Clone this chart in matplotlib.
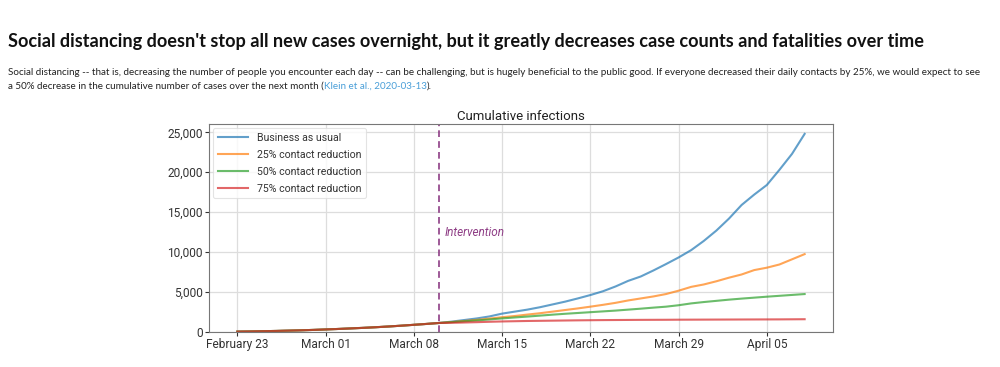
import matplotlib
matplotlib.use("Agg")

import matplotlib.pyplot as plt
import matplotlib.dates as mdates
import matplotlib.ticker as mticker
import numpy as np
import pandas as pd

# -- Data ---------------------------------------------------------------------
dates = pd.date_range("2020-02-23", "2020-04-08", freq="D")
intervention_date = pd.Timestamp("2020-03-10")

common = [50, 70, 100, 130, 170, 210, 260, 320, 380, 450, 520, 600, 690, 790,
          900, 1010, 1130]

business_as_usual = common + [1300, 1500, 1700, 1950, 2300, 2550, 2800, 3100,
                              3450, 3800, 4200, 4625, 5100, 5700, 6400, 6950,
                              7700, 8500, 9330, 10250, 11400, 12700, 14200,
                              15900, 17200, 18400, 20300, 22300, 24800]
reduction_25 = common + [1250, 1380, 1520, 1680, 1850, 2000, 2180, 2350, 2550,
                         2750, 2950, 3170, 3400, 3650, 3950, 4200, 4450, 4750,
                         5170, 5650, 5950, 6350, 6800, 7200, 7750, 8050, 8450,
                         9100, 9750]
reduction_50 = common + [1230, 1340, 1450, 1570, 1700, 1820, 1930, 2050, 2170,
                         2280, 2380, 2480, 2580, 2680, 2800, 2920, 3050, 3170,
                         3350, 3580, 3750, 3900, 4050, 4180, 4300, 4420, 4530,
                         4640, 4750]
reduction_75 = common + [1150, 1190, 1230, 1280, 1320, 1350, 1380, 1400, 1420,
                         1440, 1460, 1475, 1490, 1500, 1510, 1520, 1525, 1530,
                         1540, 1545, 1550, 1555, 1560, 1565, 1570, 1575, 1580,
                         1590, 1600]

series = [
    ("Business as usual", business_as_usual, "tab:blue"),
    ("25% contact reduction", reduction_25, "tab:orange"),
    ("50% contact reduction", reduction_50, "tab:green"),
    ("75% contact reduction", reduction_75, "tab:red"),
]

title = ("Social distancing doesn't stop all new cases overnight, "
         "but it greatly decreases case counts and fatalities over time")
line1 = ("Social distancing -- that is, decreasing the number of people you "
         "encounter each day -- can be challenging, but is hugely beneficial to "
         "the public good. If everyone decreased their daily contacts by 25%, "
         "we would expect to see")
line2 = "a 50% decrease in the cumulative number of cases over the next month ("
link = "Klein et al., 2020-03-13"

# -- Figure -------------------------------------------------------------------
fig = plt.figure(figsize=(10, 3.67), dpi=100)
fig.patch.set_facecolor("white")

fig.text(0.008, 1 - 47 / 367, title, fontsize=13.05, fontweight="bold",
         family="Lato", color="#111111", va="baseline")

body_size = 7.12
fig.text(0.008, 1 - 75 / 367, line1, fontsize=body_size, family="Lato",
         color="#222222", va="baseline")
t2 = fig.text(0.008, 1 - 89 / 367, line2, fontsize=body_size, family="Lato",
              color="#222222", va="baseline")
fig.canvas.draw()
bb = t2.get_window_extent()
t3 = fig.text(bb.x1 / fig.bbox.width, 1 - 89 / 367, link, fontsize=body_size,
              family="Lato", color="#4a9fd8", va="baseline")
fig.canvas.draw()
bb = t3.get_window_extent()
fig.text(bb.x1 / fig.bbox.width, 1 - 89 / 367, ").", fontsize=body_size,
         family="Lato", color="#222222", va="baseline")

# -- Chart --------------------------------------------------------------------
ax = fig.add_axes([0.209, 1 - 332 / 367, 0.624, 208 / 367])
chart_font = "Roboto"

for label, values, color in series:
    ax.plot(dates, values, color=color, lw=1.5, alpha=0.7, label=label)

ax.axvline(intervention_date, color="#8e3d85", lw=1.2, ls=(0, (4, 2.5)))
ax.text(intervention_date + pd.Timedelta(days=0.4), 12500, "Intervention",
        fontsize=8.5, style="italic", color="#8e3d85", ha="left", va="center",
        family=chart_font)

ax.set_ylim(0, None)
ax.set_title("Cumulative infections", fontsize=9.5, color="#222222", pad=3,
             family=chart_font)

ax.xaxis.set_major_locator(mdates.WeekdayLocator(byweekday=mdates.SU))
ax.xaxis.set_major_formatter(mdates.DateFormatter("%B %d"))
ax.yaxis.set_major_locator(mticker.MultipleLocator(5000))
ax.yaxis.set_major_formatter(mticker.StrMethodFormatter("{x:,.0f}"))

ax.grid(True, color="#dddddd", lw=0.9)
ax.set_axisbelow(True)
for spine in ax.spines.values():
    spine.set_color("#777777")
ax.tick_params(labelsize=8.6, colors="#333333", length=3, width=0.8,
               pad=1.5)
for lab in ax.get_xticklabels() + ax.get_yticklabels():
    lab.set_family(chart_font)

leg = ax.legend(loc="upper left", frameon=True, fancybox=True,
                borderpad=0.45, labelspacing=0.65, handlelength=2.8,
                handletextpad=0.9, borderaxespad=0.4,
                prop={"family": chart_font, "size": 7.6})
leg.get_frame().set_edgecolor("#dddddd")
leg.get_frame().set_linewidth(0.8)
for txt in leg.get_texts():
    txt.set_color("#333333")

fig.savefig("out.png", dpi=100, facecolor="white")
